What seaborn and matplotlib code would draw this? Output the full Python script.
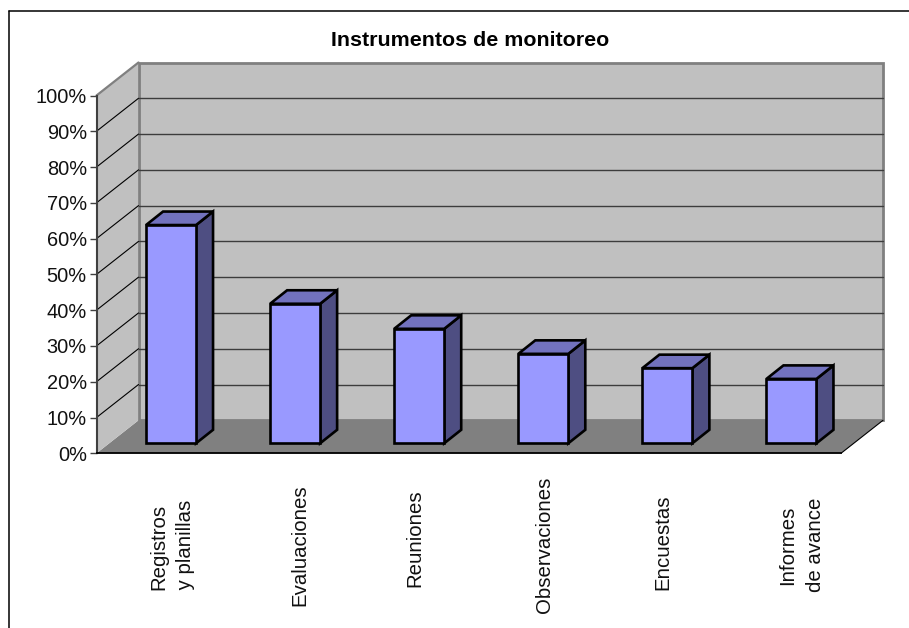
import pandas as pd
import seaborn as sns
from matplotlib import pyplot as plt
from matplotlib.lines import Line2D
from matplotlib.patches import Polygon

categories = [
    "Registros\n y planillas",
    "Evaluaciones",
    "Reuniones",
    "Observaciones",
    "Encuestas",
    "Informes\nde avance",
]
values = [61, 39, 32, 25, 21, 18]
y_ticks = [0, 10, 20, 30, 40, 50, 60, 70, 80, 90, 100]
title = "Instrumentos de monitoreo"

W, H = 909, 628
AX_LEFT, AX_RIGHT = 96.5, 841
AX_TOP, AX_BOTTOM = 95.5, 453.3
PX_X = (AX_RIGHT - AX_LEFT) / len(categories)
PX_Y = (AX_BOTTOM - AX_TOP) / 100

# depth of the box and of the bars, in pixels
WALL_DX, WALL_DY = 42, 33
BAR_X, BAR_Y = 12.5, 10
BAR_DX, BAR_DY = 17, 13.5

# hand placement of the category labels, pixels from the bar centre / from top
label_dx = [1, 5, -4, 1, -4, 10]
label_y = [547, 545, 538, 545, 542, 545]

WALL = "#c0c0c0"
FLOOR = "#808080"
EDGE = "#808080"
GRID = "#3c3c3c"
BAR_FRONT = "#9999ff"
BAR_SIDE = "#4e4e82"
BAR_TOP = "#7272be"
FONT = "Liberation Sans"

sns.set_style("white")
plt.rcParams["font.family"] = [FONT, "DejaVu Sans"]

fig = plt.figure(figsize=(W / 100, H / 100), dpi=100)
ax = fig.add_axes(
    [
        AX_LEFT / W,
        1 - AX_BOTTOM / H,
        (AX_RIGHT - AX_LEFT) / W,
        (AX_BOTTOM - AX_TOP) / H,
    ]
)
ax.patch.set_visible(False)

df = pd.DataFrame({"cat": categories, "val": values})
sns.barplot(
    data=df,
    x="cat",
    y="val",
    color=BAR_FRONT,
    saturation=1,
    width=50 / PX_X,
    edgecolor="black",
    linewidth=1.9,
    zorder=5,
    ax=ax,
)
ax.set_xlim(-0.5, len(categories) - 0.5)
ax.set_ylim(0, 100)

x0, x1 = ax.get_xlim()
wx, wy = WALL_DX / PX_X, WALL_DY / PX_Y

# box: floor, side wall, back wall
ax.add_patch(
    Polygon(
        [(x0, 0), (x0 + wx, wy), (x1 + wx, wy), (x1, 0)],
        fc=FLOOR, ec="none", clip_on=False, zorder=1,
    )
)
ax.add_patch(
    Polygon(
        [(x0, 0), (x0 + wx, wy), (x0 + wx, 100 + wy), (x0, 100)],
        fc=WALL, ec="none", clip_on=False, zorder=1,
    )
)
ax.add_patch(
    Polygon(
        [(x0 + wx, wy), (x1 + wx, wy), (x1 + wx, 100 + wy), (x0 + wx, 100 + wy)],
        fc=WALL, ec=EDGE, lw=2.0, clip_on=False, zorder=1,
    )
)
ax.plot(
    [x0, x0 + wx], [100, 100 + wy],
    color=EDGE, lw=1.6, clip_on=False, zorder=2,
)
ax.plot(
    [x1, x1 + wx], [0, wy],
    color="black", lw=0.8, clip_on=False, zorder=2,
)

for t in y_ticks[1:-1]:
    ax.plot(
        [x0, x0 + wx], [t, t + wy],
        color="black", lw=0.8, clip_on=False, zorder=2,
    )
    ax.plot(
        [x0 + wx, x1 + wx], [t + wy, t + wy],
        color=GRID, lw=1.0, clip_on=False, zorder=2,
    )

# move the bars into the box and give them depth
dx, dy = BAR_DX / PX_X, BAR_DY / PX_Y
for bar in ax.patches[:len(categories)]:
    bar.set_x(bar.get_x() + BAR_X / PX_X)
    bar.set_y(BAR_Y / PX_Y)
    left, right = bar.get_x(), bar.get_x() + bar.get_width()
    low, top = bar.get_y(), bar.get_y() + bar.get_height()
    ax.add_patch(
        Polygon(
            [(right, low), (right + dx, low + dy), (right + dx, top + dy), (right, top)],
            fc=BAR_SIDE, ec="black", lw=1.9, joinstyle="miter", clip_on=False, zorder=4,
        )
    )
    ax.add_patch(
        Polygon(
            [(left, top), (left + dx, top + dy), (right + dx, top + dy), (right, top)],
            fc=BAR_TOP, ec="black", lw=1.9, joinstyle="miter", clip_on=False, zorder=4,
        )
    )

for side in ["top", "right"]:
    ax.spines[side].set_visible(False)
ax.spines["left"].set_color("#404040")
ax.spines["left"].set_linewidth(1.5)
ax.spines["left"].set_zorder(3)
ax.spines["bottom"].set_color("black")
ax.spines["bottom"].set_linewidth(1.3)
ax.spines["bottom"].set_zorder(3)

ax.set_xlabel("")
ax.set_ylabel("")
ax.set_yticks(y_ticks)
ax.set_yticklabels([f"{t}%" for t in y_ticks], fontsize=14.4, color="#111111")
ax.tick_params(axis="y", left=True, length=5, width=1, color="#404040", pad=2)
ax.tick_params(axis="x", bottom=False, labelbottom=False)

for i, cat in enumerate(categories):
    ax.text(
        (i + (BAR_X + label_dx[i]) / PX_X),
        1 - (label_y[i] - AX_TOP) / (AX_BOTTOM - AX_TOP),
        cat,
        transform=ax.get_xaxis_transform(),
        rotation=90,
        ha="center",
        va="center",
        multialignment="center",
        fontsize=14.7,
        linespacing=1.55,
        color="#111111",
    )

fig.text(470.5 / W, 1 - 40.5 / H, title, ha="center", va="center",
         fontsize=15.4, fontweight="bold", color="black")

# chart frame, only top and left reach the picture
fig.add_artist(Line2D([8.5 / W, 8.5 / W], [0, 1 - 10.5 / H], color="black", lw=1.1))
fig.add_artist(Line2D([8.5 / W, 1], [1 - 10.5 / H, 1 - 10.5 / H], color="black", lw=1.1))

fig.savefig("out.png", dpi=100)
